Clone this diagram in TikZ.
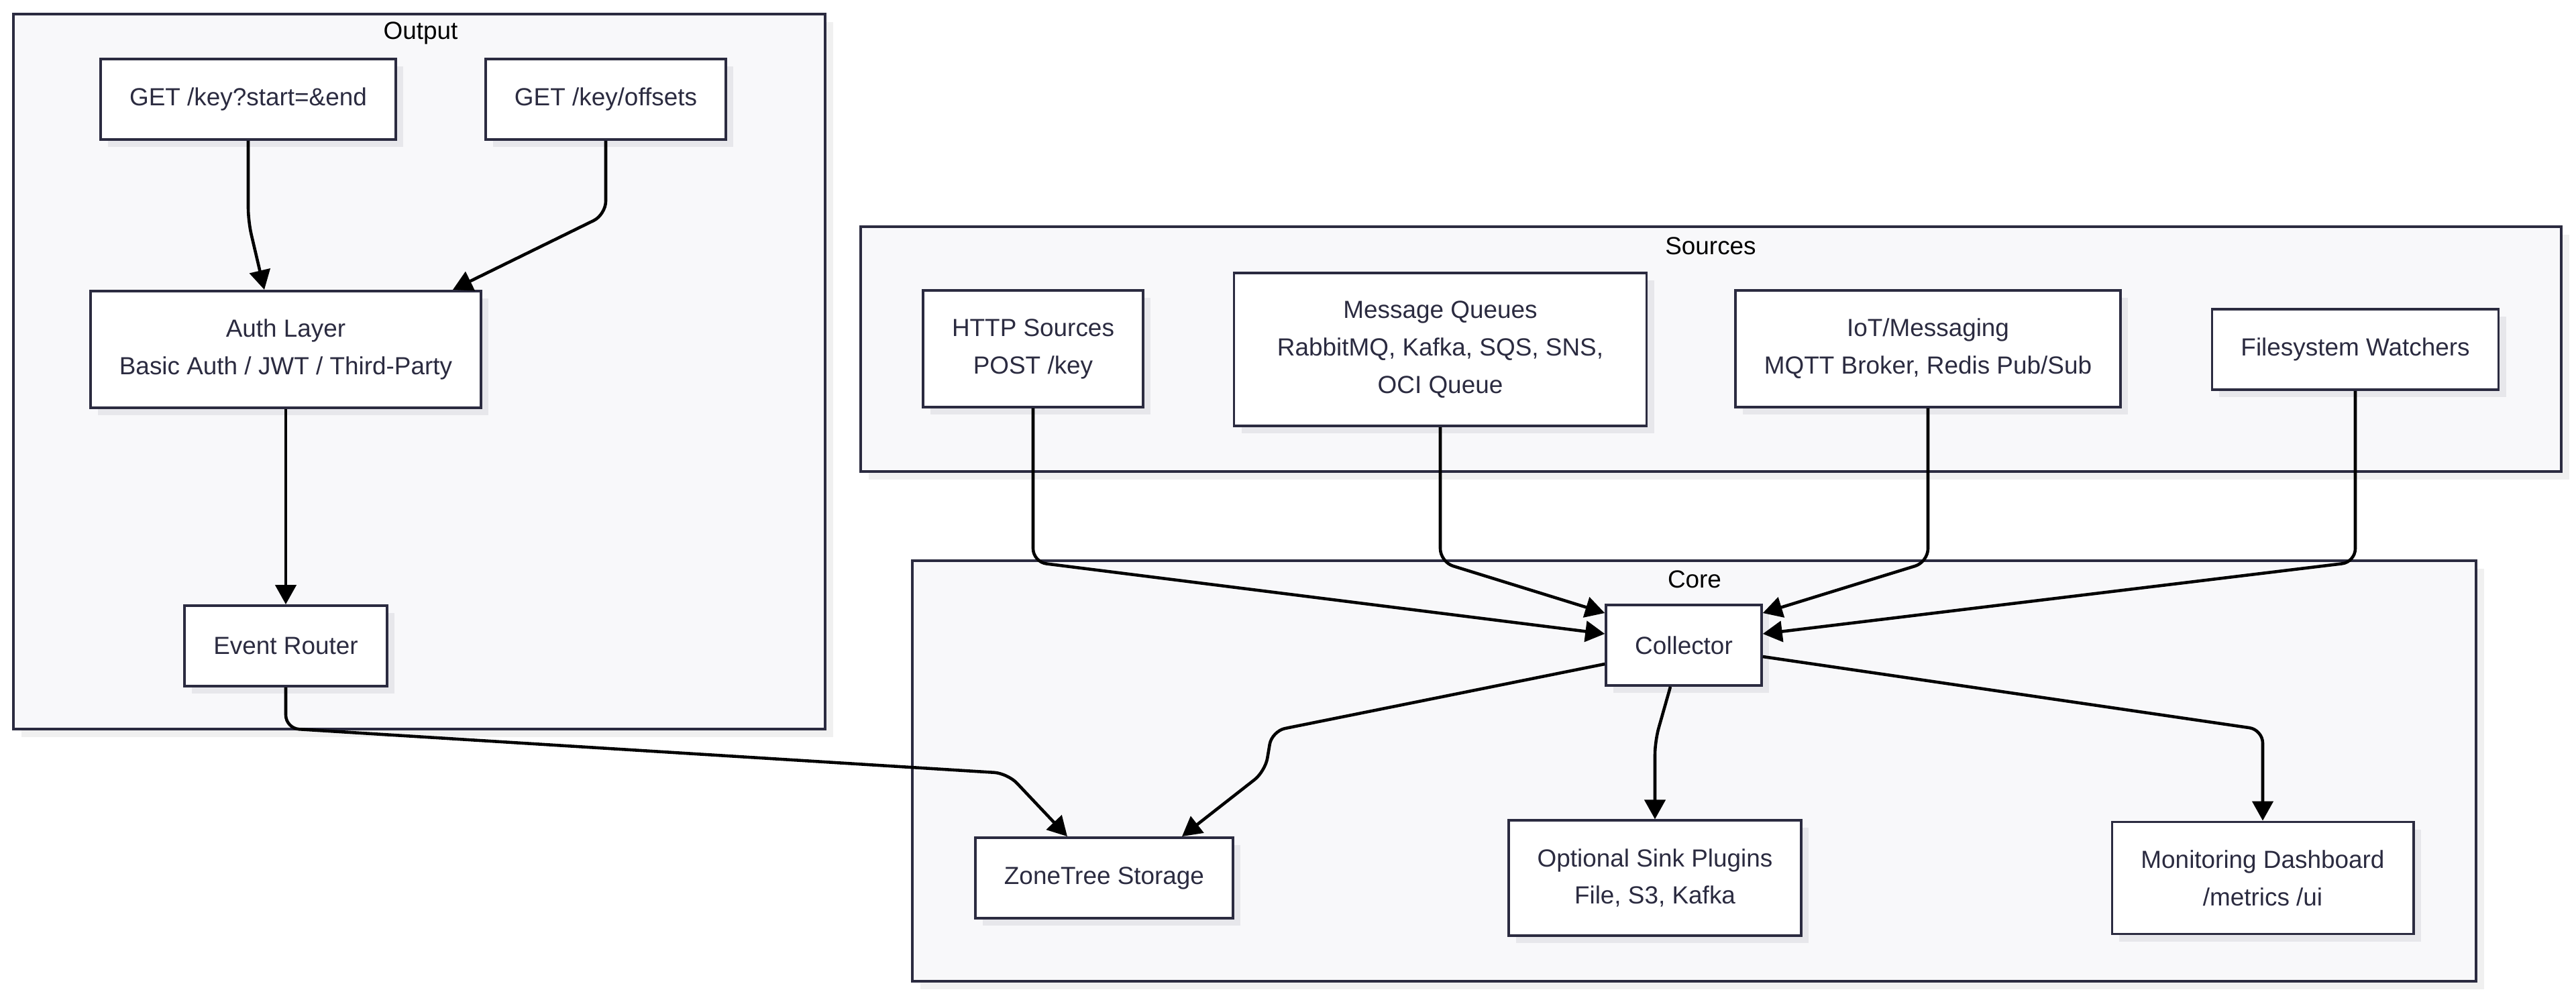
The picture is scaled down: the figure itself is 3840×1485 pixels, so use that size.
\documentclass[tikz,border=0pt]{standalone}
\usepackage{fontspec}
\setmainfont{Liberation Sans}
\usepackage{tikz}
\usetikzlibrary{arrows.meta}
\usetikzlibrary{shadows}

\definecolor{ink}{HTML}{2B2B40}
\definecolor{frameC}{HTML}{F8F8FA}
\definecolor{shade}{HTML}{E7E7EB}

\begin{document}
\begin{tikzpicture}[x=0.1mm,y=-0.1mm,
    every node/.style={font=\fontsize{10.5}{15.9}\selectfont},
    box/.style={draw=ink, line width=1.1pt, fill=white, text=ink, align=center,
      inner xsep=4.3mm, inner ysep=4.2mm, minimum height=12mm,
      drop shadow={shadow xshift=1.1mm, shadow yshift=-1.1mm, fill=shade, opacity=1}},
    cluster/.style={draw=ink, line width=1.1pt, fill=frameC,
      drop shadow={shadow xshift=1.2mm, shadow yshift=-1.2mm, fill=black!6, opacity=1}},
    flow/.style={line width=1.3pt, rounded corners=2mm, -{Triangle[length=2.9mm,width=3.1mm]}}]
    \useasboundingbox (0,0) rectangle (3840,1485);

    % groups
    \draw[cluster] (20,21) rectangle (1230,1087);
    \draw[cluster] (1283,338) rectangle (3818,703);
    \draw[cluster] (1360,836) rectangle (3691,1463);
    \node (outputL) at (627,49)  {Output};
    \node (sourcesL) at (2550,367) {Sources};
    \node (coreL) at (2526,864) {Core};

    % output side
    \node[box] (get1) at (370,148) {GET /key?start=\&end};
    \node[box] (get2) at (903,148) {GET /key/offsets};
    \node[box] (auth) at (426,521) {Auth Layer\\Basic Auth / JWT / Third-Party};
    \node[box] (router) at (426,963) {Event Router};

    % sources
    \node[box] (http) at (1540,520) {HTTP Sources\\POST /key};
    \node[box, minimum width=61.5mm] (mq) at (2147,521) {Message Queues\\RabbitMQ, Kafka, SQS, SNS,\\OCI Queue};
    \node[box] (iot) at (2874,520) {IoT/Messaging\\MQTT Broker, Redis Pub/Sub};
    \node[box] (fs) at (3511,521) {Filesystem Watchers};

    % core
    \node[box] (col) at (2510,962) {Collector};
    \node[box] (zt) at (1646,1309) {ZoneTree Storage};
    \node[box] (sink) at (2467,1309) {Optional Sink Plugins\\File, S3, Kafka};
    \node[box] (mon) at (3373,1309) {Monitoring Dashboard\\/metrics /ui};

    \draw[flow] (get1.south) -- (370,330) -- ([xshift=-3.2mm]auth.north);
    \draw[flow] (get2.south) -- (903,320) -- ([xshift=24.9mm]auth.north);
    \draw[flow] (auth.south) -- (router.north);
    \draw[flow] (router.south) -- (426,1086) -- (1502,1153) -- ([xshift=-5.5mm]zt.north);

    \draw[flow] (http.south) -- (1540,838) -- ([yshift=1.7mm]col.west);
    \draw[flow] (mq.south) -- (2147,838) -- ([yshift=4.8mm]col.west);
    \draw[flow] (iot.south) -- (2874,838) -- ([yshift=4.8mm]col.east);
    \draw[flow] (fs.south) -- (3511,838) -- ([yshift=1.7mm]col.east);

    \draw[flow] ([yshift=-2.8mm]col.west) -- (1896,1090) -- (1886,1150) -- ([xshift=11.6mm]zt.north);
    \draw[flow] ([xshift=-2mm]col.south) -- (2467,1105) -- (sink.north);
    \draw[flow] ([yshift=-1.7mm]col.east) -- (3373,1088) -- (mon.north);
\end{tikzpicture}
\end{document}
